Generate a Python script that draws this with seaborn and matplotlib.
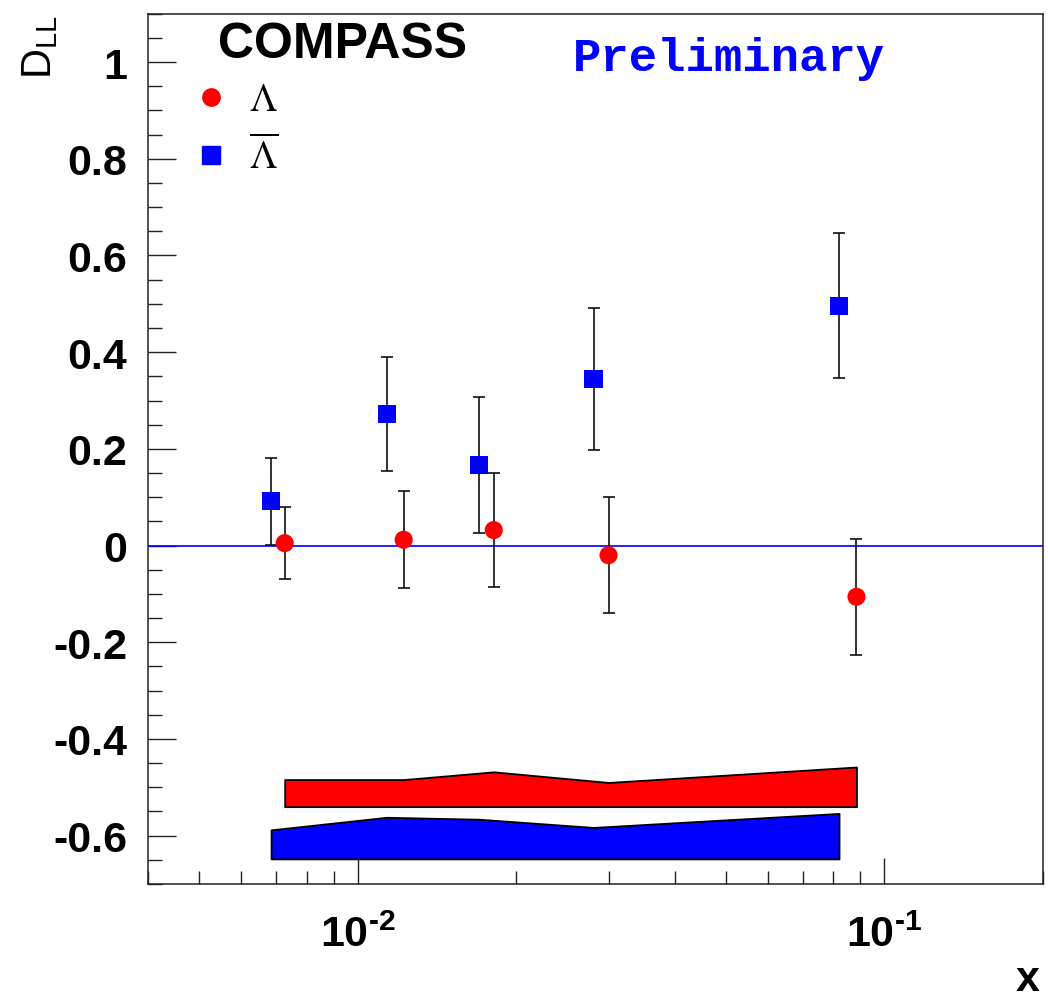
import numpy as np
import pandas as pd
import matplotlib
matplotlib.use("Agg")
import matplotlib.pyplot as plt
import seaborn as sns
from matplotlib.lines import Line2D
from matplotlib.font_manager import FontProperties
from matplotlib.ticker import FixedLocator, LogLocator, MultipleLocator, FuncFormatter, NullFormatter

# ---------------- data ----------------
lam_x = [0.00727, 0.01223, 0.01813, 0.02994, 0.0885]
lam_y = [0.005, 0.012, 0.032, -0.020, -0.106]
lam_err = [0.074, 0.100, 0.118, 0.120, 0.120]
lam_sys_low = [-0.540, -0.540, -0.540, -0.540, -0.540]
lam_sys_high = [-0.484, -0.484, -0.468, -0.490, -0.458]

alam_x = [0.00685, 0.01135, 0.01698, 0.02804, 0.0820]
alam_y = [0.092, 0.272, 0.166, 0.344, 0.496]
alam_err = [0.090, 0.118, 0.141, 0.147, 0.150]
alam_sys_low = [-0.648, -0.648, -0.648, -0.648, -0.648]
alam_sys_high = [-0.588, -0.562, -0.566, -0.583, -0.554]

series_names = ["Lambda", "AntiLambda"]
legend_labels = [r"$\Lambda$", r"$\overline{\Lambda}$"]
x_major = [0.01, 0.1]
x_major_labels = ["$\\mathbf{10^{\u20102}}$", "$\\mathbf{10^{\u20101}}$"]

df = pd.DataFrame({
    "x": lam_x + alam_x,
    "y": lam_y + alam_y,
    "err": lam_err + alam_err,
    "series": [series_names[0]] * len(lam_x) + [series_names[1]] * len(alam_x),
})

# ---------------- style ----------------
sns.set_style("white")
plt.rcParams["font.family"] = ["Liberation Sans", "DejaVu Sans"]
plt.rcParams["mathtext.fontset"] = "custom"
plt.rcParams["mathtext.rm"] = "Liberation Sans"
plt.rcParams["mathtext.bf"] = "Liberation Sans:bold"
plt.rcParams["mathtext.it"] = "Liberation Sans:italic"
plt.rcParams["text.color"] = "black"
plt.rcParams["axes.labelcolor"] = "black"
plt.rcParams["xtick.color"] = "black"
plt.rcParams["ytick.color"] = "black"

fig = plt.figure(figsize=(10.48, 10.03), dpi=100)
ax = fig.add_axes([148 / 1048, 118 / 1003, 895 / 1048, 870.3 / 1003])
ax.set_xscale("log")

colors = {"Lambda": "#ff0000", "AntiLambda": "#0000ff"}
markers = {"Lambda": "o", "AntiLambda": "s"}

# systematic bands
ax.fill_between(lam_x, lam_sys_low, lam_sys_high, facecolor="#ff0000",
                edgecolor="black", linewidth=1.3, zorder=2)
ax.fill_between(alam_x, alam_sys_low, alam_sys_high, facecolor="#0000ff",
                edgecolor="black", linewidth=1.3, zorder=2)

# zero line
ax.axhline(0, color="#0000ff", lw=1.2, zorder=3)

# error bars
ax.errorbar(df["x"], df["y"], yerr=df["err"], fmt="none", ecolor="#111111",
            elinewidth=1.2, capsize=4, capthick=1.2, zorder=4)

# points
sns.scatterplot(data=df, x="x", y="y", hue="series", style="series",
                palette=colors, markers=markers, s=170, linewidth=0,
                legend=False, ax=ax, zorder=5)

ax.set_xlim(0.004, 0.2)
ax.set_ylim(-0.7, 1.1)

# ticks
ax.xaxis.set_major_locator(FixedLocator(x_major))
ax.xaxis.set_major_formatter(FuncFormatter(
    lambda v, p: x_major_labels[x_major.index(min(x_major, key=lambda m: abs(m - v)))]))
ax.xaxis.set_minor_locator(LogLocator(base=10, subs=np.arange(2, 10)))
ax.xaxis.set_minor_formatter(NullFormatter())
ax.yaxis.set_major_locator(MultipleLocator(0.2))
ax.yaxis.set_minor_locator(MultipleLocator(0.05))
ax.yaxis.set_major_formatter(FuncFormatter(
    lambda v, p: "0" if abs(v) < 1e-9 else f"{round(v, 3):g}"))

ax.tick_params(which="both", direction="in", top=False, right=False,
               bottom=True, left=True, width=1.0, color="#222222")
ax.tick_params(axis="y", which="major", length=20, pad=15, labelsize=31)
ax.tick_params(axis="y", which="minor", length=10)
ax.tick_params(axis="x", which="major", length=19, pad=22, labelsize=31)
ax.tick_params(axis="x", which="minor", length=9.5)
for lab in ax.get_yticklabels():
    lab.set_fontweight("bold")

for sp in ax.spines.values():
    sp.set_linewidth(1.1)
    sp.set_color("#222222")

# axis labels
ax.set_xlabel("x", fontsize=31, fontweight="bold", loc="right")
ax.xaxis.set_label_coords(0.9966, -0.086)
ax.set_ylabel(r"$\mathregular{D_{LL}}$", fontsize=30, loc="top")
ax.yaxis.set_label_coords(-0.098, 1.0)

# titles
ax.text(0.078, 0.950, "COMPASS", transform=ax.transAxes, fontsize=36,
        fontweight="bold", ha="left", va="baseline")
ax.text(0.475, 0.935, "Preliminary", transform=ax.transAxes, fontsize=34,
        fontweight="bold", family="Liberation Mono", color="#0000ff",
        ha="left", va="baseline")

# legend
handles = [Line2D([], [], marker="o", color="#ff0000", ls="none", ms=12.5),
           Line2D([], [], marker="s", color="#0000ff", ls="none", ms=12.5)]
ax.legend(handles, legend_labels, loc="upper left",
          bbox_to_anchor=(0.058, 0.921), frameon=False,
          prop=FontProperties(size=28, math_fontfamily="stix"),
          handlelength=0.55, handletextpad=0.7, labelspacing=0.45,
          borderpad=0, borderaxespad=0)

fig.savefig("out.png", dpi=100)
